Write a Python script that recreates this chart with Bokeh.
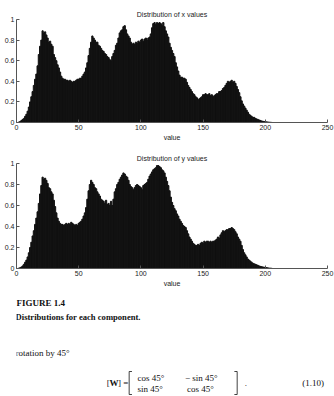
from bokeh.plotting import figure
from bokeh.layouts import column
from bokeh.models import FixedTicker, Label
from bokeh.core.properties import value
from bokeh.embed import file_html
from bokeh.resources import INLINE

# ---------------- data ----------------
bins = list(range(0, 206))

x_counts = [
    0, 0, 0.005, 0.01, 0.02, 0.03, 0.04, 0.06, 0.08, 0.11,
    0.15, 0.20, 0.25, 0.30, 0.36, 0.42, 0.47, 0.55, 0.66, 0.74,
    0.80, 0.89, 0.87, 0.88, 0.85, 0.82, 0.78, 0.79, 0.76, 0.74,
    0.66, 0.63, 0.60, 0.56, 0.53, 0.49, 0.45, 0.43, 0.42, 0.42,
    0.41, 0.41, 0.40, 0.41, 0.40, 0.39, 0.40, 0.40, 0.41, 0.42,
    0.42, 0.43, 0.43, 0.45, 0.47, 0.49, 0.53, 0.58, 0.65, 0.72,
    0.78, 0.84, 0.82, 0.80, 0.78, 0.78, 0.75, 0.74, 0.72, 0.70,
    0.69, 0.67, 0.66, 0.64, 0.63, 0.61, 0.60, 0.64, 0.67, 0.70,
    0.75, 0.77, 0.82, 0.87, 0.89, 0.90, 0.93, 0.94, 0.90, 0.86,
    0.84, 0.82, 0.78, 0.76, 0.77, 0.76, 0.78, 0.77, 0.79, 0.78,
    0.80, 0.81, 0.79, 0.81, 0.82, 0.80, 0.82, 0.83, 0.86, 0.92,
    0.96, 0.97, 0.95, 0.97, 0.96, 0.97, 0.96, 0.94, 0.97, 0.93,
    0.89, 0.86, 0.83, 0.77, 0.73, 0.70, 0.67, 0.64, 0.58, 0.54,
    0.50, 0.46, 0.44, 0.44, 0.43, 0.43, 0.42, 0.39, 0.36, 0.34,
    0.32, 0.30, 0.28, 0.27, 0.25, 0.24, 0.22, 0.23, 0.24, 0.25,
    0.27, 0.27, 0.28, 0.27, 0.27, 0.28, 0.26, 0.27, 0.25, 0.26,
    0.27, 0.28, 0.28, 0.30, 0.30, 0.31, 0.33, 0.34, 0.36, 0.38,
    0.40, 0.39, 0.40, 0.41, 0.39, 0.40, 0.38, 0.35, 0.32, 0.29,
    0.25, 0.21, 0.18, 0.16, 0.14, 0.12, 0.10, 0.08, 0.07, 0.06,
    0.05, 0.05, 0.04, 0.035, 0.03, 0.025, 0.02, 0.015, 0.012, 0.01,
    0.008, 0.006, 0.005, 0.003, 0.002, 0.001,
]

y_counts = [
    0, 0, 0.004, 0.008, 0.015, 0.025, 0.04, 0.06, 0.08, 0.11,
    0.15, 0.20, 0.25, 0.31, 0.36, 0.42, 0.48, 0.54, 0.62, 0.71,
    0.79, 0.87, 0.85, 0.86, 0.84, 0.81, 0.77, 0.76, 0.73, 0.71,
    0.65, 0.59, 0.53, 0.48, 0.45, 0.43, 0.42, 0.42, 0.41, 0.42,
    0.43, 0.42, 0.43, 0.42, 0.44, 0.43, 0.42, 0.41, 0.42, 0.41,
    0.43, 0.44, 0.45, 0.47, 0.50, 0.53, 0.58, 0.66, 0.74, 0.80,
    0.84, 0.82, 0.80, 0.77, 0.76, 0.73, 0.71, 0.69, 0.66, 0.65,
    0.64, 0.62, 0.65, 0.61, 0.62, 0.60, 0.64, 0.60, 0.66, 0.73,
    0.76, 0.80, 0.82, 0.85, 0.87, 0.89, 0.91, 0.90, 0.88, 0.87,
    0.84, 0.80, 0.78, 0.77, 0.75, 0.77, 0.79, 0.80, 0.79, 0.78,
    0.77, 0.75, 0.79, 0.80, 0.81, 0.82, 0.85, 0.88, 0.90, 0.92,
    0.94, 0.95, 0.96, 0.98, 0.98, 0.97, 0.96, 0.94, 0.93, 0.91,
    0.87, 0.83, 0.79, 0.74, 0.68, 0.63, 0.60, 0.57, 0.55, 0.52,
    0.50, 0.47, 0.45, 0.43, 0.41, 0.40, 0.39, 0.36, 0.33, 0.30,
    0.28, 0.26, 0.24, 0.23, 0.22, 0.22, 0.23, 0.22, 0.24, 0.25,
    0.24, 0.26, 0.25, 0.26, 0.26, 0.25, 0.26, 0.25, 0.26, 0.26,
    0.27, 0.28, 0.30, 0.29, 0.32, 0.34, 0.36, 0.35, 0.36, 0.37,
    0.37, 0.38, 0.38, 0.39, 0.38, 0.37, 0.35, 0.33, 0.30, 0.28,
    0.26, 0.22, 0.18, 0.15, 0.13, 0.11, 0.09, 0.08, 0.07, 0.06,
    0.05, 0.045, 0.04, 0.035, 0.03, 0.025, 0.02, 0.017, 0.015, 0.012,
    0.01, 0.008, 0.006, 0.004, 0.003, 0.002,
]

x_ticks = [0, 50, 100, 150, 200, 250]
y_ticks = [0, 0.2, 0.4, 0.6, 0.8, 1]
y_tick_labels = {0: "0", 0.2: "0.2", 0.4: "0.4", 0.6: "0.6", 0.8: "0.8", 1: "1"}

titles = ["Distribution of x values", "Distribution of y values"]
x_label = "value"
y_label = "percent"

caption_head = "FIGURE 1.4"
caption_body = "Distributions for each component."
body_text = "rotation by 45°"
eq_number = "(1.10)"

SANS = "Liberation Sans"
SERIF = "Liberation Serif"
TXT = "#222222"
AX = "#555555"
BAR = "#111111"


def hist_fig(counts, title, height, top, bottom):
    p = figure(width=334, height=height, x_range=(0, 250), y_range=(0, 1),
               output_backend="svg", toolbar_location=None,
               min_border_left=16, min_border_right=7,
               min_border_top=top, min_border_bottom=bottom,
               title=title)
    p.title.align = "center"
    p.title.text_font = SANS
    p.title.text_font_size = "7px"
    p.title.text_font_style = "normal"
    p.title.text_color = TXT
    p.title.standoff = 4
    p.vbar(x=bins, top=counts, width=1.0, fill_color=BAR,
           line_color=BAR, line_width=1.0)
    p.xgrid.visible = False
    p.ygrid.visible = False
    p.outline_line_color = None
    p.background_fill_color = "white"
    p.border_fill_color = "white"
    for ax in (p.xaxis[0], p.yaxis[0]):
        ax.major_label_text_font = SANS
        ax.major_label_text_font_size = "7px"
        ax.major_label_text_color = TXT
        ax.axis_line_color = AX
        ax.major_tick_line_color = AX
        ax.major_tick_in = 3
        ax.major_tick_out = 0
        ax.minor_tick_line_color = None
        ax.major_label_standoff = 2
    p.xaxis.ticker = FixedTicker(ticks=x_ticks)
    p.yaxis.ticker = FixedTicker(ticks=y_ticks)
    p.yaxis.major_label_overrides = y_tick_labels
    p.xaxis.axis_label = x_label
    p.xaxis.axis_label_text_font = SANS
    p.xaxis.axis_label_text_font_size = "7px"
    p.xaxis.axis_label_text_font_style = "normal"
    p.xaxis.axis_label_text_color = TXT
    p.xaxis.axis_label_standoff = 1
    p.add_layout(Label(x=-9.6, y=0.6, text=y_label, angle=1.5708,
                       text_align="center", text_baseline="bottom",
                       text_font=SANS, text_font_size="7px", text_color=TXT))
    return p


p1 = hist_fig(x_counts, titles[0], 143, 19, 20)
p2 = hist_fig(y_counts, titles[1], 147, 20, 22)

# caption / text block, page-pixel coordinates
p3 = figure(width=334, height=106, x_range=(0, 334), y_range=(396, 290),
            output_backend="svg", toolbar_location=None,
            x_axis_location=None, y_axis_location=None, min_border=0)
p3.xgrid.visible = False
p3.ygrid.visible = False
p3.outline_line_color = None

p3.text(x=[0], y=[302], text=[caption_head], text_font=value(SERIF),
        text_font_size="9px", text_font_style="bold", text_baseline="middle",
        text_color="#111111")
p3.text(x=[-1], y=[316], text=[caption_body], text_font=value(SERIF),
        text_font_size="8.6px", text_font_style="bold", text_baseline="middle",
        text_color="#111111")
p3.text(x=[-1], y=[352], text=[body_text], text_font=value(SERIF),
        text_font_size="9px", text_baseline="middle", text_color="#111111")

# equation [W] = [ cos45 -sin45 ; sin45 cos45 ] .   (1.10)
p3.text(x=[97], y=[382], text=["["], text_font=value(SERIF), text_font_size="9px",
        text_baseline="middle", text_color="#111111")
p3.text(x=[100], y=[382], text=["W"], text_font=value(SERIF), text_font_size="9px",
        text_font_style="bold", text_baseline="middle", text_color="#111111")
p3.text(x=[109], y=[382], text=["] ="], text_font=value(SERIF), text_font_size="9px",
        text_baseline="middle", text_color="#111111")
p3.text(x=[130, 181, 130, 183], y=[377, 377, 388, 388],
        text=["cos 45°", "− sin 45°", "sin 45°", "cos 45°"],
        text_font=value(SERIF), text_font_size="9px", text_baseline="middle",
        text_color="#111111")
p3.multi_line(xs=[[124, 121, 121, 124], [234, 237, 237, 234]],
              ys=[[371, 371, 394, 394], [371, 371, 394, 394]],
              line_color="#111111", line_width=0.8)
p3.text(x=[245, 307], y=[382, 382], text=[".", eq_number], text_font=value(SERIF),
        text_font_size="9px", text_baseline="middle", text_color="#111111")

layout = column(p1, p2, p3, spacing=0)
open("out.html", "w").write(file_html(layout, INLINE))
